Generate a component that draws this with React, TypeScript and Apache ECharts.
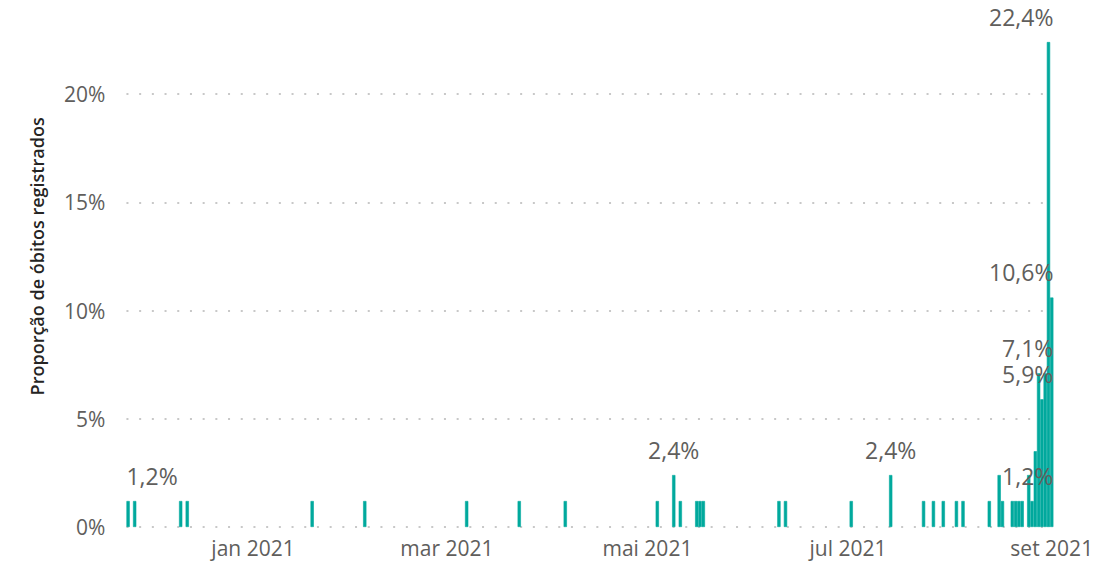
import React, { useEffect, useRef } from "react";
import * as echarts from "echarts";

// Daily proportion of registered deaths (%)
const dates = [
  "2020-11-24", "2020-11-26", "2020-12-10", "2020-12-12", "2021-01-19",
  "2021-02-04", "2021-03-07", "2021-03-23", "2021-04-06", "2021-05-04",
  "2021-05-09", "2021-05-11", "2021-05-16", "2021-05-17", "2021-05-18",
  "2021-06-10", "2021-06-12", "2021-07-02", "2021-07-14", "2021-07-24",
  "2021-07-27", "2021-07-30", "2021-08-03", "2021-08-05", "2021-08-13",
  "2021-08-16", "2021-08-17", "2021-08-20", "2021-08-21", "2021-08-22",
  "2021-08-23", "2021-08-25", "2021-08-26", "2021-08-27", "2021-08-28",
  "2021-08-29", "2021-08-30", "2021-08-31", "2021-09-01",
];
const values = [
  1.2, 1.2, 1.2, 1.2, 1.2,
  1.2, 1.2, 1.2, 1.2, 1.2,
  2.4, 1.2, 1.2, 1.2, 1.2,
  1.2, 1.2, 1.2, 2.4, 1.2,
  1.2, 1.2, 1.2, 1.2, 1.2,
  2.4, 1.2, 1.2, 1.2, 1.2,
  1.2, 2.4, 1.2, 3.5, 7.1,
  5.9, 7.1, 22.4, 10.6,
];
const labeledDates = [
  "2020-11-24", "2021-05-09", "2021-07-14", "2021-08-26",
  "2021-08-28", "2021-08-29", "2021-08-31", "2021-09-01",
];
const monthNames = ["jan", "fev", "mar", "abr", "mai", "jun", "jul", "ago", "set", "out", "nov", "dez"];
const labelMonths = [1, 3, 5, 7, 9];
const yTicks = { min: 0, max: 25, interval: 5 };

const W = 1116;
const H = 606;
const OFFSET = 40;
const GRID_LEFT = 126.45;
const GRID_RIGHT = 62.6;
const BAR_COLOR = "#01a99d";
const FONT = "'Open Sans', 'Noto Sans', sans-serif";

function buildDays(first: string, last: string): string[] {
  const out: string[] = [];
  const t0 = Date.parse(first + "T00:00:00Z");
  const t1 = Date.parse(last + "T00:00:00Z");
  for (let t = t0; t <= t1; t += 86400000) {
    out.push(new Date(t).toISOString().slice(0, 10));
  }
  return out;
}

const fmtPct = (v: number) => v.toFixed(1).replace(".", ",") + "%";

export default function App() {
  const ref = useRef<HTMLDivElement>(null);
  useEffect(() => {
    if (!ref.current) return;
    const chart = echarts.init(ref.current, null, { renderer: "svg" });
    const days = buildDays(dates[0], dates[dates.length - 1]);
    const plotLeft = GRID_LEFT;
    const plotRight = W - GRID_RIGHT;
    const data = dates.map((d, i) => ({
      value: [d, values[i]],
      label: { show: labeledDates.includes(d) },
    }));
    chart.setOption({
      animation: false,
      textStyle: { fontFamily: FONT },
      grid: { left: GRID_LEFT, right: GRID_RIGHT, top: 25.75, bottom: 39 },
      xAxis: {
        type: "category",
        data: days,
        boundaryGap: true,
        axisLine: { show: false },
        axisTick: { show: false },
        splitLine: { show: false },
        axisLabel: {
          interval: (_i: number, v: string) =>
            v.endsWith("-01") && labelMonths.includes(parseInt(v.slice(5, 7), 10)),
          formatter: (v: string) => monthNames[parseInt(v.slice(5, 7), 10) - 1] + " " + v.slice(0, 4),
          color: "#605e5c",
          fontSize: 21,
          fontFamily: FONT,
          margin: 10,
        },
      },
      yAxis: {
        type: "value",
        min: yTicks.min,
        max: yTicks.max,
        interval: yTicks.interval,
        name: "Proporção de óbitos registrados",
        nameLocation: "middle",
        nameRotate: 90,
        nameGap: 80,
        nameTextStyle: { color: "#252423", fontSize: 18, fontWeight: 600, fontFamily: FONT },
        axisLine: { show: false },
        axisTick: { show: false },
        axisLabel: {
          formatter: (v: number) => v + "%",
          showMaxLabel: false,
          color: "#605e5c",
          fontSize: 21,
          fontFamily: FONT,
          margin: 21,
        },
        splitLine: {
          show: true,
          lineStyle: { color: "#c8c8c8", width: 2, type: [2, 10.7] },
        },
      },
      series: [
        {
          type: "bar",
          data,
          barCategoryGap: "0%",
          barGap: "0%",
          itemStyle: { color: BAR_COLOR, borderColor: BAR_COLOR, borderWidth: 0.6 },
          label: {
            show: false,
            position: "top",
            distance: 14,
            formatter: (p: any) => fmtPct(p.value[1]),
            color: "#605e5c",
            fontSize: 23,
            fontFamily: FONT,
          },
          labelLayout: (p: any) => {
            const r = p.labelRect;
            if (r.x + r.width > plotRight)
              return { x: plotRight, align: "right", verticalAlign: "bottom" };
            if (r.x < plotLeft)
              return { x: plotLeft, align: "left", verticalAlign: "bottom" };
            return {};
          },
        },
      ],
    });
    return () => chart.dispose();
  }, []);
  return (
    <div
      ref={ref}
      style={{ position: "absolute", left: 0, top: -OFFSET, width: W, height: H, background: "#fff" }}
    />
  );
}
